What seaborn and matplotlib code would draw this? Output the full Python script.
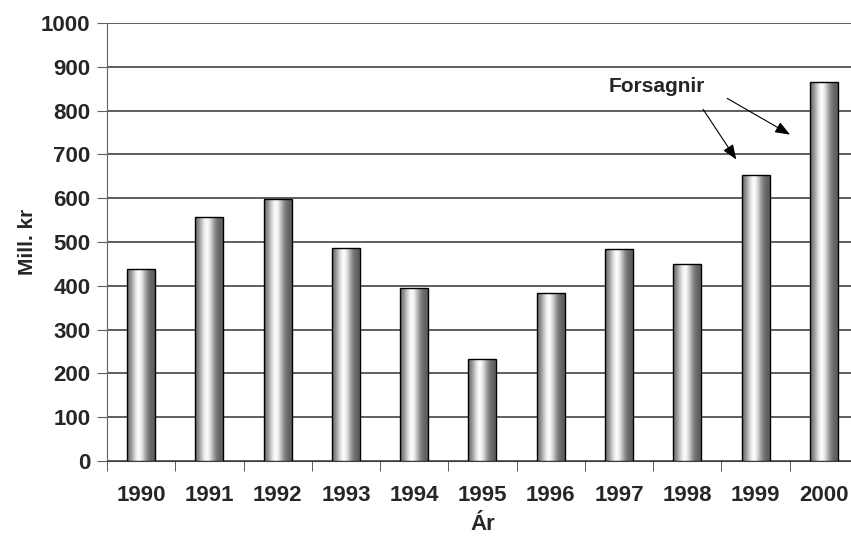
import numpy as np
import pandas as pd
import matplotlib
matplotlib.use("Agg")
import matplotlib.pyplot as plt
import seaborn as sns

years = ["1990", "1991", "1992", "1993", "1994", "1995",
         "1996", "1997", "1998", "1999", "2000"]
values = [438, 557, 598, 486, 395, 233, 384, 483, 449, 652, 865]
y_ticks = list(range(0, 1001, 100))

sns.set_style("white")
plt.rcParams['font.family'] = ['Liberation Sans', 'DejaVu Sans']
plt.rcParams['font.weight'] = 'bold'

df = pd.DataFrame({"year": years, "value": values})

fig = plt.figure(figsize=(8.51, 5.37), dpi=100)
ax = fig.add_axes([0.1257, 0.1415, 0.8825, 0.8157])

sns.barplot(data=df, x="year", y="value", ax=ax, width=0.41,
            color="white", edgecolor="black", linewidth=1.0, zorder=3)

# cylinder-like grey shading inside each bar
prof = np.linspace(0, 1, 64)
shade = 0.36 + 0.62 * np.exp(-((prof - 0.42) / 0.28) ** 2)
shade = np.clip(shade, 0, 0.98)
grad = np.tile(shade, (2, 1))
for p in ax.patches:
    x0, w, h = p.get_x(), p.get_width(), p.get_height()
    im = ax.imshow(grad, cmap="gray", vmin=0, vmax=1, aspect="auto",
                   extent=(x0, x0 + w, 0, h), zorder=3.5, interpolation="bilinear")
    im.set_clip_path(p)
    p.set_zorder(4)
    p.set_facecolor("none")

ax.set_xlim(-0.5, len(years) - 0.5)
ax.set_ylim(0, 1000)
ax.set_yticks(y_ticks)
ax.yaxis.grid(True, color="#333333", linewidth=1.1, zorder=0)
ax.set_axisbelow(True)

for s in ["top", "right"]:
    ax.spines[s].set_visible(False)
ax.spines["left"].set_color("#606060")
ax.spines["bottom"].set_color("#404040")

ax.set_xticks(np.arange(-0.5, len(years), 1.0), minor=True)
ax.tick_params(axis="x", which="major", length=0, pad=17, labelsize=16)
ax.tick_params(axis="x", which="minor", length=7, color="#404040", direction="out")
ax.tick_params(axis="y", length=7, color="#606060", direction="out", labelsize=16, pad=5)
ax.tick_params(axis="both", which="both", bottom=True, left=True)

ax.set_xlabel("Ár", fontsize=16, fontweight="bold", labelpad=6)
ax.set_ylabel("Mill. kr", fontsize=15, fontweight="bold", labelpad=3)

ax.text(7.55, 856, "Forsagnir", ha="center", va="center", fontsize=15, fontweight="bold")
arrow = dict(arrowstyle="-|>,head_length=0.9,head_width=0.35", color="black", lw=0.8)
ax.annotate("", xy=(8.74, 683), xytext=(8.21, 808), arrowprops=arrow)
ax.annotate("", xy=(9.54, 742), xytext=(8.55, 831), arrowprops=arrow)

fig.savefig("out.png", dpi=100, facecolor="white")
